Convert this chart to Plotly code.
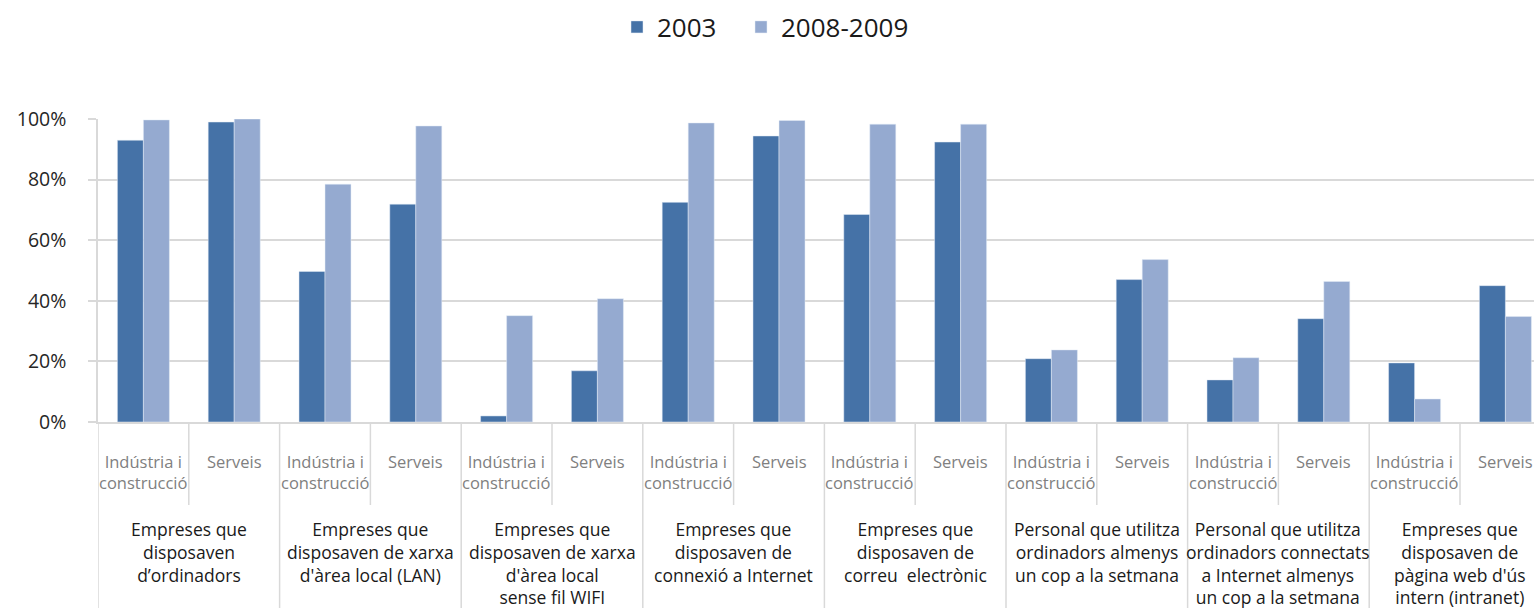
import plotly.graph_objects as go

groups = [
    "Empreses que<br>disposaven<br>d’ordinadors",
    "Empreses que<br>disposaven de xarxa<br>d'àrea local (LAN)",
    "Empreses que<br>disposaven de xarxa<br>d'àrea local<br>sense fil WIFI",
    "Empreses que<br>disposaven de<br>connexió a Internet",
    "Empreses que<br>disposaven de<br>correu  electrònic",
    "Personal que utilitza<br>ordinadors almenys<br>un cop a la setmana",
    "Personal que utilitza<br>ordinadors connectats<br>a Internet almenys<br>un cop a la setmana",
    "Empreses que<br>disposaven de<br>pàgina web d'ús<br>intern (intranet)",
]
subcats = ["Indústria i<br>construcció", "Serveis"]

v2003 = [93, 99, 49.7, 71.9, 2, 16.9, 72.5, 94.4, 68.5, 92.4, 20.9, 47, 13.9, 34.1, 19.5, 45]
v2008 = [99.7, 100, 78.5, 97.7, 35.1, 40.7, 98.7, 99.5, 98.3, 98.3, 23.8, 53.6, 21.2, 46.4, 7.6, 34.8]
series_names = ["2003", "2008-2009"]

PW, PH = 1534, 608
top_px, bot_px, left_px = 119, 422, 98
plot_h = bot_px - top_px
plot_w = PW - left_px
cat_w = 90.8

def py(p):
    return (bot_px - p) / plot_h

def px(p):
    return (p - left_px) / plot_w

xs = list(range(len(v2003)))

fig = go.Figure()
fig.add_trace(go.Bar(x=xs, y=v2003, name=series_names[0], marker_color="#4572a7",
                     legend="legend", showlegend=True))
fig.add_trace(go.Bar(x=xs, y=v2008, name=series_names[1], marker_color="#95aad0",
                     legend="legend2", showlegend=True))

font_family = "'Open Sans', 'Noto Sans', sans-serif"

annotations = []
for i in xs:
    annotations.append(dict(
        x=i, xref="x", y=py(448), yref="paper", yanchor="top", xanchor="center",
        text=subcats[i % 2], showarrow=False, align="center",
        font=dict(family=font_family, size=16.5, color="#808080"),
    ))
for g, label in enumerate(groups):
    annotations.append(dict(
        x=2 * g + 0.5, xref="x", y=py(515), yref="paper", yanchor="top", xanchor="center",
        text=label, showarrow=False, align="center",
        font=dict(family=font_family, size=17.5, color="#1a1a1a"),
    ))

shapes = []
for k in range(len(xs) + 1):
    y_end = py(PH + 2) if k % 2 == 0 else py(505)
    shapes.append(dict(
        type="line", xref="x", yref="paper", x0=k - 0.5, x1=k - 0.5, y0=0, y1=y_end,
        line=dict(color="#d9d9d9", width=1.5), layer="below",
    ))

legend_common = dict(
    orientation="h", xanchor="left", y=py(27), yanchor="middle",
    font=dict(size=26, color="#1a1a1a"), bgcolor="rgba(0,0,0,0)",
)

fig.update_layout(
    width=PW, height=PH,
    margin=dict(l=left_px, r=0, t=top_px, b=PH - bot_px, pad=0),
    plot_bgcolor="white", paper_bgcolor="white",
    showlegend=True,
    barmode="group", bargap=0.427, bargroupgap=0,
    font=dict(family=font_family, color="#262626"),
    legend=dict(x=px(617), **legend_common),
    legend2=dict(x=px(741), **legend_common),
    xaxis=dict(
        range=[-0.5, -0.5 + plot_w / cat_w], showticklabels=False,
        showgrid=False, zeroline=False, showline=True, linecolor="#d9d9d9",
        linewidth=1.5, ticks="",
    ),
    yaxis=dict(
        range=[0, 100], tickvals=[0, 20, 40, 60, 80, 100],
        ticktext=["0%", "20%", "40%", "60%", "80%", "100%"],
        showgrid=True, gridcolor="#d9d9d9", gridwidth=1.5,
        zeroline=False, showline=True, linecolor="#d9d9d9", linewidth=1.5,
        ticks="outside", ticklen=8, tickcolor="#d9d9d9", tickwidth=1.5,
        ticklabelstandoff=18, tickfont=dict(size=19.5, color="#262626"),
    ),
    annotations=annotations, shapes=shapes,
)

fig.write_html(
    "out.html",
    config={"displayModeBar": False},
    post_script="document.body.style.margin='0px';document.body.style.overflow='hidden';",
)
